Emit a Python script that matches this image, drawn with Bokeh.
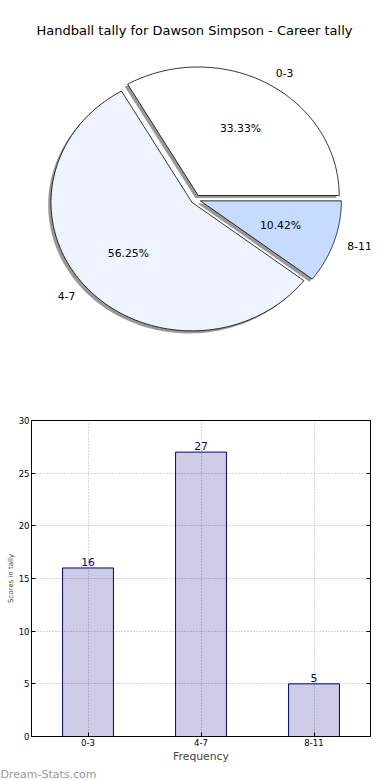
import math
from bokeh.plotting import figure
from bokeh.layouts import column
from bokeh.models import (Range1d, FactorRange, Label, LinearAxis, Title,
                          SingleIntervalTicker, CustomJSTickFormatter)
from bokeh.core.properties import value
from bokeh.embed import file_html
from bokeh.resources import INLINE

# ---- data ----
categories = ["0-3", "4-7", "8-11"]
counts = [16, 27, 5]
pie_colors = ["#FFFFFF", "#EEF3FF", "#C6DBFF"]
explode = [0.035, 0.035, 0.035]
title_text = "Handball tally for Dawson Simpson - Career tally"
x_label = "Frequency"
y_label = "Scores in tally"
watermark = "Dream-Stats.com"

FONT = "DejaVu Sans"

# shared horizontal borders (column aligns frames)
W = 390
BL, BR = 31, 20
FW = W - BL - BR

# ---- pie figure ----
H = 400
CX, CY = 195.2, 198.9      # pie centre in canvas px (from left / from top)
RX, RY = 141.0, 128.5      # px per data unit
pp = figure(width=W, height=H, output_backend="svg", toolbar_location=None,
            x_range=Range1d(-(CX - BL) / RX, (BL + FW - CX) / RX),
            y_range=Range1d(-(H - CY) / RY, CY / RY),
            x_axis_type=None, y_axis_type=None,
            min_border_left=BL, min_border_right=BR, min_border_top=0, min_border_bottom=0)
pp.outline_line_color = None
pp.grid.visible = False

total = float(sum(counts))
xs, ys, sxs, sys_ = [], [], [], []
lab_x, lab_y, lab_align = [], [], []
pct_x, pct_y, pct_t = [], [], []
start = 0.0
for v, e in zip(counts, explode):
    frac = v / total
    a0, a1 = start * 2 * math.pi, (start + frac) * 2 * math.pi
    mid = (a0 + a1) / 2
    ox, oy = e * math.cos(mid), e * math.sin(mid)
    n = 120
    px = [ox] + [ox + math.cos(a0 + (a1 - a0) * i / n) for i in range(n + 1)]
    py = [oy] + [oy + math.sin(a0 + (a1 - a0) * i / n) for i in range(n + 1)]
    xs.append(px); ys.append(py)
    sxs.append([p - 0.02 for p in px]); sys_.append([p - 0.02 for p in py])
    lab_x.append(ox + 1.1 * math.cos(mid)); lab_y.append(oy + 1.1 * math.sin(mid))
    lab_align.append("left" if math.cos(mid) > 0 else "right")
    pct_x.append(ox + 0.6 * math.cos(mid)); pct_y.append(oy + 0.6 * math.sin(mid))
    pct_t.append("%.2f%%" % (100 * frac))
    start += frac

pp.patches(xs=sxs, ys=sys_, fill_color="#333333", fill_alpha=0.5, line_color=None)
pp.patches(xs=xs, ys=ys, fill_color=pie_colors, line_color="black", line_width=0.8)
pp.text(x=lab_x, y=lab_y, text=categories, text_align=lab_align, text_baseline="middle",
        text_font=value(FONT), text_font_size="10.8px", text_color="black")
pp.text(x=pct_x, y=pct_y, text=pct_t, text_align="center", text_baseline="middle",
        text_font=value(FONT), text_font_size="10.8px", text_color="black")
pp.add_layout(Label(x=(194 - CX) / RX, y=(CY - 30) / RY, text=title_text,
                    text_align="center", text_baseline="middle",
                    text_font=FONT, text_font_size="13px", text_color="black"))

# ---- bar figure ----
BH = 380
BT, BB = 20, 44
pb = figure(width=W, height=BH, output_backend="svg", toolbar_location=None,
            x_range=FactorRange(factors=categories, range_padding=0),
            y_range=Range1d(0, 30),
            min_border_left=BL, min_border_right=BR, min_border_top=BT, min_border_bottom=BB)
pb.vbar(x=categories, top=counts, width=0.45, fill_color="navy", fill_alpha=0.2,
        line_color="navy", line_width=1)
pb.text(x=categories, y=counts, text=[str(c) for c in counts], text_align="center",
        text_baseline="bottom", y_offset=-2, text_color="navy",
        text_font=value(FONT), text_font_size="10.8px")

ticker = SingleIntervalTicker(interval=5, num_minor_ticks=0)
pb.yaxis.ticker = ticker
pb.ygrid.ticker = ticker
pb.grid.grid_line_color = "#b0b0b0"
pb.grid.grid_line_dash = "1 2"
pb.grid.grid_line_width = 1
pb.outline_line_color = "black"
pb.outline_line_width = 1

rax = LinearAxis(ticker=ticker, formatter=CustomJSTickFormatter(code="return ''"),
                 major_label_text_font_size="0px", major_label_standoff=0)
pb.add_layout(rax, "right")

for ax in pb.axis:
    ax.major_tick_in = 4
    ax.major_tick_out = 0
    ax.minor_tick_line_color = None
    ax.axis_line_color = "black"
    ax.major_tick_line_color = "black"
    ax.major_label_text_font = FONT
    ax.major_label_text_color = "black"
for ax in pb.xaxis + pb.yaxis[:1]:
    ax.major_label_text_font_size = "8.5px"
    ax.major_label_standoff = 2

pb.xaxis.axis_label = x_label
pb.xaxis.axis_label_text_font = FONT
pb.xaxis.axis_label_text_font_size = "10.8px"
pb.xaxis.axis_label_text_font_style = "normal"
pb.xaxis.axis_label_standoff = 1

yax = pb.yaxis[0]
yax.axis_label = y_label
yax.axis_label_text_font = FONT
yax.axis_label_text_font_size = "7px"
yax.axis_label_text_font_style = "normal"
yax.axis_label_standoff = 1

pb.add_layout(Title(text=watermark, align="left", offset=-BL, standoff=0,
                    text_font=FONT, text_font_size="11px", text_font_style="normal",
                    text_color="#999999"), "below")

open("out.html", "w").write(file_html(column(pp, pb), INLINE))
